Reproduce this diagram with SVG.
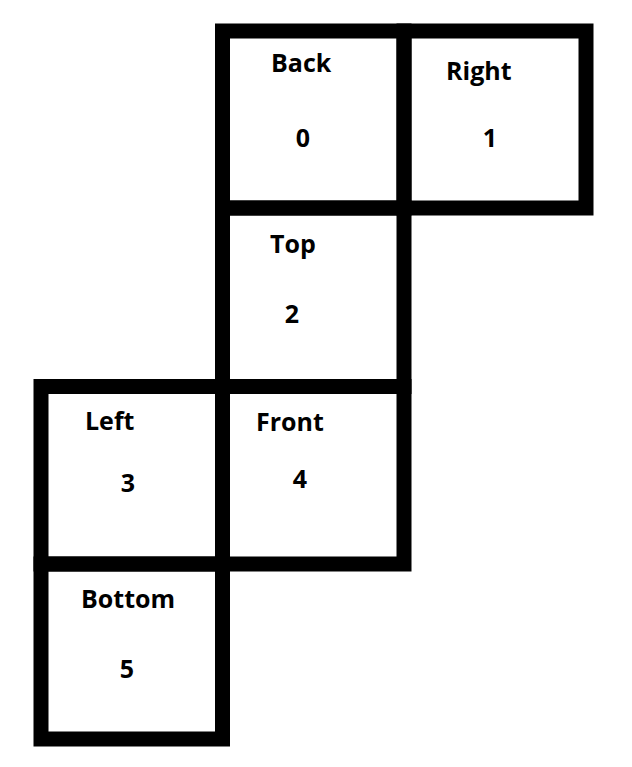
<svg xmlns="http://www.w3.org/2000/svg" width="632" height="767" viewBox="0 0 632 767">
<style>
.cell{fill:none;stroke:#000;stroke-width:15}
.lbl{font-family:"Open Sans","DejaVu Sans",sans-serif;font-weight:bold;font-size:25px;fill:#000}
.num{font-family:"Open Sans","DejaVu Sans",sans-serif;font-weight:bold;font-size:25px;fill:#000;text-anchor:middle}
</style>
<rect width="632" height="767" fill="#fff"/>
<g id="back"><rect class="cell" x="222.5" y="31" width="181.5" height="177"/><text class="lbl" x="271" y="72">Back</text><text class="num" x="303" y="147">0</text></g>
<g id="right"><rect class="cell" x="404" y="31" width="182" height="177"/><text class="lbl" x="446" y="80">Right</text><text class="num" x="490" y="147">1</text></g>
<g id="top"><rect class="cell" x="222.5" y="208" width="181.5" height="178.5"/><text class="lbl" x="270" y="253">Top</text><text class="num" x="292" y="323">2</text></g>
<g id="left"><rect class="cell" x="41" y="386.5" width="181.5" height="177.5"/><text class="lbl" x="85" y="430">Left</text><text class="num" x="128" y="492">3</text></g>
<g id="front"><rect class="cell" x="222.5" y="386.5" width="181.5" height="177.5"/><text class="lbl" x="256" y="431">Front</text><text class="num" x="300" y="488">4</text></g>
<g id="bottom"><rect class="cell" x="41" y="564" width="181.5" height="175"/><text class="lbl" x="81" y="608">Bottom</text><text class="num" x="127" y="678">5</text></g>
<g id="connectors"></g>
</svg>
